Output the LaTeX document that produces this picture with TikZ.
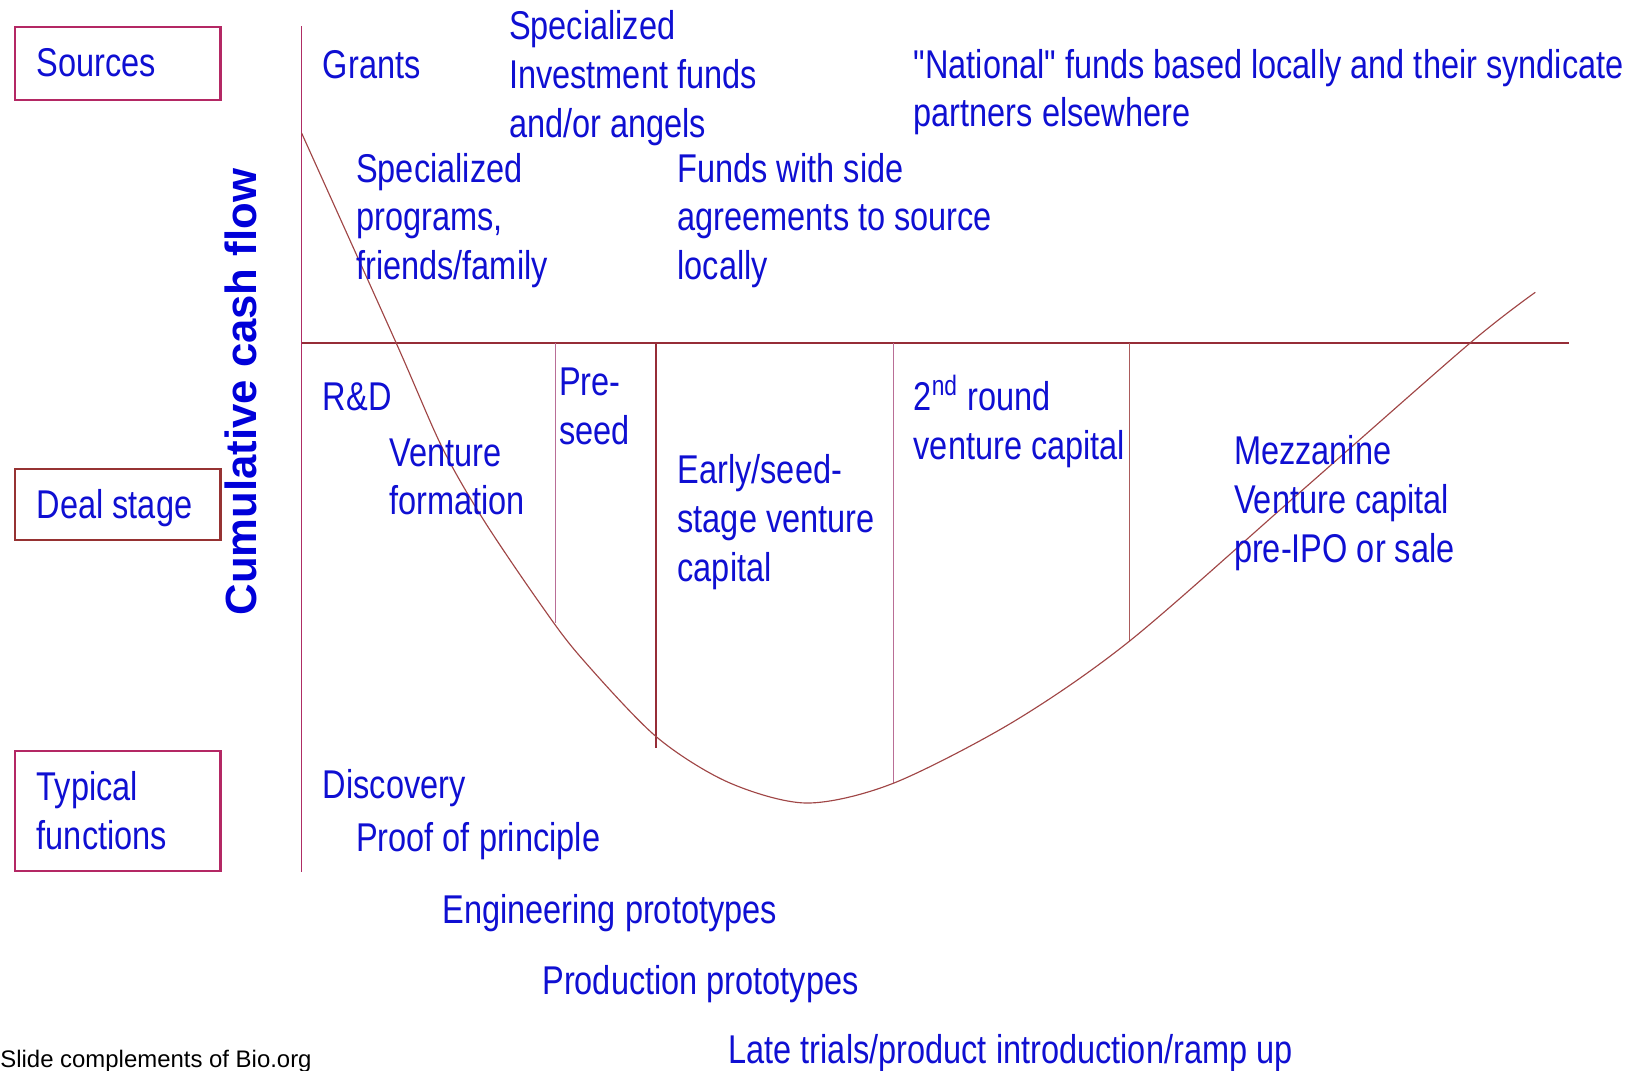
\documentclass[tikz,border=0pt]{standalone}
\usepackage{fontspec}
\setmainfont{Liberation Sans}
\newfontfamily\nar[FakeStretch=0.81]{Liberation Sans}
\newcommand\ml[1]{\begin{tabular}[t]{@{}l@{}}#1\end{tabular}}
\definecolor{tblue}{RGB}{15,15,210}
\definecolor{axbrown}{RGB}{150,45,55}
\definecolor{axmag}{RGB}{175,45,100}
\definecolor{boxmag}{RGB}{180,40,100}
\definecolor{boxbrown}{RGB}{150,50,50}
\definecolor{curvec}{RGB}{160,70,70}
\definecolor{divpink}{RGB}{185,110,150}
\begin{document}
\begin{tikzpicture}[x=0.5pt,y=-0.5pt,
  lbl/.style={anchor=base west, inner sep=0pt, text=tblue, font=\nar\fontsize{19.3}{23.5}\selectfont},
  cbox/.style={draw, line width=1pt, anchor=north west, minimum width=99pt, inner sep=0pt},
  divider/.style={line width=0.5pt},
  curveline/.style={draw=curvec, line width=0.55pt}]
\useasboundingbox (0,0) rectangle (1568,1029);
% left boxes
\node[cbox, draw=boxmag, minimum height=35pt] (srcbox) at (13,25) {};
\node[cbox, draw=boxbrown, minimum height=34pt] (dealbox) at (13,450) {};
\node[cbox, draw=boxmag, minimum height=57.5pt] (funcbox) at (13,721) {};
\node[lbl] (src) at (35,74) {Sources};
\node[lbl] (deal) at (35,498) {Deal stage};
\node[lbl] (func) at (35,770) {\ml{Typical\\functions}};
% axis title
\node[rotate=90, text=blue!85!black, font=\bfseries\fontsize{21}{24}\selectfont, inner sep=0pt] (ytitle) at (232,377) {Cumulative cash flow};
% axes
\coordinate (vtop) at (290,25);
\coordinate (vbot) at (290,838);
\coordinate (hl) at (290,330);
\coordinate (hr) at (1508,330);
\draw[draw=axmag, line width=0.8pt] (vtop) -- (vbot);
\draw[draw=axbrown, line width=1pt] (hl) -- (hr);
% dividers
\coordinate (d1t) at (533.6,330); \coordinate (d1b) at (533.6,599);
\coordinate (d2t) at (630.6,330); \coordinate (d2b) at (630.6,719);
\coordinate (d3t) at (858.8,330); \coordinate (d3b) at (858.8,753);
\coordinate (d4t) at (1086.3,330); \coordinate (d4b) at (1086.3,616);
\draw[divider, draw=divpink] (d1t) -- (d1b);
\draw[divider, draw=axbrown, line width=0.7pt] (d2t) -- (d2b);
\draw[divider, draw=divpink] (d3t) -- (d3b);
\draw[divider, draw=boxbrown!80] (d4t) -- (d4b);
% cash flow curve
\draw[curveline] plot[smooth, tension=0.5] coordinates {(290,128) (381,330) (425,430) (465,500) (519,580) (557.6,631) (630.6,708) (700,752) (775.5,772) (858.8,753) (974,694) (1086.3,616) (1250,473) (1413,330) (1476,281)};
% sources row
\node[lbl] (grants) at (310,75) {Grants};
\node[lbl] (sif) at (489,38) {\ml{Specialized\\Investment funds\\and/or angels}};
\node[lbl] (natl) at (878,75) {\ml{"National" funds based locally and their syndicate\\partners elsewhere}};
\node[lbl] (spp) at (342,175) {\ml{Specialized\\programs,\\friends/family}};
\node[lbl] (fws) at (651,175) {\ml{Funds with side\\agreements to source\\locally}};
% deal stages
\node[lbl] (rd) at (310,395) {R\&D};
\node[lbl] (vf) at (374,448) {\ml{Venture\\formation}};
\node[lbl] (pre) at (537,380) {\ml{Pre-\\seed}};
\node[lbl] (early) at (651,465) {\ml{Early/seed-\\stage venture\\capital}};
\node[lbl] (second) at (878,395) {\ml{2\textsuperscript{nd} round\\venture capital}};
\node[lbl] (mezz) at (1186,447) {\ml{Mezzanine\\Venture capital\\pre-IPO or sale}};
% functions
\node[lbl] (disc) at (310,768) {Discovery};
\node[lbl] (proof) at (342,819) {Proof of principle};
\node[lbl] (eng) at (425,888) {Engineering prototypes};
\node[lbl] (prod) at (521,956) {Production prototypes};
\node[lbl] (late) at (700,1022) {Late trials/product introduction/ramp up};
% footer
\node[anchor=base west, inner sep=0pt, font=\fontsize{11.5}{13}\selectfont] (foot) at (0,1026) {Slide complements of Bio.org};
\end{tikzpicture}
\end{document}
